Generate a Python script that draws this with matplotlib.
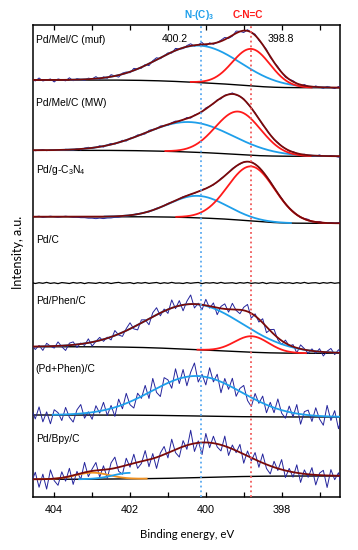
import numpy as np
import matplotlib
matplotlib.use("Agg")
import matplotlib.pyplot as plt

plt.rcParams['font.family'] = ['Liberation Sans', 'DejaVu Sans']
plt.rcParams['mathtext.default'] = 'regular'

# Component peaks: (centre eV, sigma eV, height)
muf_blue = (400.16, 1.07, 37)
muf_red = (398.80, 0.50, 37)
mw_blue = (400.43, 1.15, 30)
mw_red = (399.15, 0.60, 43)
gcn_blue = (400.21, 0.77, 22)
gcn_red = (398.80, 0.62, 54.6)
phen_blue = (400.29, 1.27, 45.5)
phen_red = (398.79, 0.45, 16)
pdphen_blue = (400.24, 1.19, 40)
bpy_main = (400.07, 1.13, 35)
bpy_orange = (403.0, 0.45, 6.5)
bpy_small_blue = (402.0, 0.45, 6)

# background level (high BE side, low BE side) for each stacked spectrum
muf_bg = (417, 409.3)
mw_bg = (346.7, 340.7)
gcn_bg = (280.3, 273.7)
pdc_bg = (214, 214)
phen_bg = (150.3, 143.7)
pdphen_bg = (82, 80)
bpy_bg = (17.7, 21)

# raw spectra, as scatter around the fit (0.1 eV steps, 404.6 -> 396.4 eV)
muf_resid = [1, -1, 2, -1, 0, 1, -2, 1, 0, -1, 2, -1, 1, 0, -1, 1, 0, 2, -1, 1,
             -1, 2, 0, -2, 1, 1, -1, 2, 0, -1, 1, -2, 1, 2, -1, 0, 1, -1, 2, 0,
             -1, 1, 2, -1, 0, 2, -2, 1, -1, 0, 1, 2, -1, -1, 2, 0, -2, 1, 0, 1,
             -1, 0, 1, -1, 0, 1, 0, -1, 0, 1, 0, -1, 1, 0, -1, 1, 0, -1, 1, 0, -1, 1, 0]
mw_resid = [0.5, -0.5, 0, 0.5, -0.5, 0, 0.5, 0, -0.5, 0.5, 0, -0.5, 0.5, -1, 0.5, 1, -0.5, 0, 1, -1,
            0.5, 1, -0.5, 0, 1, -1, 0.5, 0, 1, -0.5, -1, 1, 0.5, -0.5, 1, 0, -1, 0.5, 1, -0.5,
            0, 1, -1, 0.5, 0, -0.5, 1, 0, -0.5, 0.5, -1, 0.5, 0, 1, -0.5, 0, 0.5, -0.5, 0, 0.5,
            0, -0.5, 0.5, 0, -0.5, 0.5, 0, 0, -0.5, 0.5, 0, -0.5, 0.5, 0, 0, -0.5, 1, -0.5, 0, 0.5, 0, -1, 0.5]
gcn_resid = [0.5, 0, 0.5, -0.5, 0, 0.5, 0, -0.5, 0, 0.5, 0, -0.5, -0.5, -1, -1, -1.5, -1.5, -2, -1.5, -2,
             -1.5, -1.5, -1, -1, -0.5, -0.5, 0, 0, 0.5, 0, 0, -0.5, 0, 0.5, 0, 0, 0.5, 0, -0.5, 0,
             0.5, 0, 0, -0.5, 0, 0.5, 0, 0, -0.5, 0, 0.5, 0, 0, 0.5, 0, -0.5, 0, 0, 0.5, 0,
             0, -0.5, 0, 0.5, 0, 0, 0.5, -0.5, 0, 0.5, 0, -0.5, 0.5, 1, -0.5, 0.5, 1, 0, -0.5, 0.5, 0, 0.5, 0]
pdc_resid = [0.5, -0.5, 0.3, -0.3, 0.6, -0.4, 0.2, -0.6, 0.4, 0, -0.5, 0.5, -0.2, 0.4, -0.6, 0.3, 0, -0.4, 0.5, -0.3,
             0.4, -0.5, 0.2, 0.6, -0.3, 0, 0.4, -0.6, 0.3, -0.2, 0.5, -0.4, 0.1, 0.5, -0.5, 0.3, -0.3, 0.6, -0.2, 0,
             -0.5, 0.4, -0.3, 0.2, 0.5, -0.6, 0.3, -0.1, 0.4, -0.4, 0.6, -0.3, 0, 0.3, -0.5, 0.4, -0.2, 0.5, -0.4, 0.2,
             -0.3, 0.5, -0.6, 0.3, 0, -0.4, 0.5, -0.2, 0.3, -0.5, 0.4, -0.3, 0.6, -0.4, 0.1, 0.3, -0.5, 0.4, -0.2, 0.5, -0.3, 0.2, -0.4]
phen_resid = [2, -3, 1, -4, 3, 0, -2, 4, -1, -5, 2, 3, -3, 1, -2, 4, -4, 0, 3, -2,
              1, -3, 5, -1, -4, 2, 6, -2, -5, 3, 1, -6, 4, 7, -3, 2, -4, 8, -2, 5,
              -6, 3, 9, -4, 1, -5, 6, -2, 4, -7, 2, 5, -3, 6, -1, -4, 3, 7, -5, 2,
              -3, 4, -6, 1, 5, -2, -4, 3, -1, 2, -5, 4, 1, -3, 2, -2, 3, -4, 1, 4, -2, 3, 0]
pdphen_resid = [6, -4, 8, -7, 3, -9, 5, 2, -6, 7, -3, -8, 4, 9, -5, 1, -7, 6, -2, 8,
                -6, 3, -9, 7, -4, 10, -3, -8, 5, -2, 9, -6, 12, -4, -10, 7, 3, -7, 11, -5,
                8, -9, 4, 13, -6, 2, -8, 10, -3, 6, -11, 5, -4, 9, -7, 3, 8, -5, -9, 6,
                -2, 7, -8, 4, -5, 10, -3, -7, 6, -4, 9, -10, 3, 5, -6, 8, -3, -9, 11, -4, 6, -12, 2]
bpy_resid = [-3, 7, -8, 5, -10, 9, -2, -7, 6, -4, 8, -9, 3, -6, 10, -5, 2, 8, -7, 4,
             -9, 6, 11, -4, -8, 7, -3, 9, -6, -2, 10, -7, 5, -11, 3, 8, -5, 12, -3, -9,
             6, -4, 14, -8, 2, -12, 9, -5, 7, -3, -6, 10, -8, 4, -2, 8, -9, 5, -3, 7,
             -6, 9, -4, -8, 6, -2, 10, -7, 3, -5, 8, -9, 4, -3, 7, -10, 2, 5, -12, 6, -4, 3, -14]

labels = ["Pd/Mel/C (muf)", "Pd/Mel/C (MW)", "Pd/g-C$_3$N$_4$", "Pd/C",
          "Pd/Phen/C", "(Pd+Phen)/C", "Pd/Bpy/C"]
label_y = [457, 394, 327, 257, 196, 128, 58]

line_n = 400.12
line_cnc = 398.8

BLUE = '#1e9fea'
RED = '#ff1a1a'
ENV = '#7a0a0a'
RAW = '#24249c'

E = np.linspace(404.6, 396.4, 600)
E_raw = np.linspace(404.6, 396.4, 83)


def gauss(x, p):
    c, s, h = p
    return h * np.exp(-(x - c) ** 2 / (2 * s ** 2))


def shirley(x, total, bg):
    left, right = bg
    if total.sum() == 0:
        return np.full_like(x, left, dtype=float)
    a = np.cumsum(total[::-1])[::-1]
    return right + (left - right) * a / a[0]


def comp_line(base, p, col, nsig=3.2):
    # draw a component only where it rises above the background
    m = np.abs(E - p[0]) <= nsig * p[1]
    ax.plot(E[m], base[m] + gauss(E[m], p), color=col, lw=1.3, zorder=4)


fig = plt.figure(figsize=(3.58, 5.5), dpi=100)
ax = fig.add_axes([33 / 358, 1 - 497 / 550, 307 / 358, 472 / 550])


def spectrum(comps, bg, resid, comp_colors, show_env=True):
    tot = sum(gauss(E, p) for p in comps)
    tot_r = sum(gauss(E_raw, p) for p in comps)
    base = shirley(E, tot, bg)
    base_r = shirley(E_raw, tot_r, bg)
    raw = base_r + tot_r + np.array(resid)
    ax.plot(E_raw, raw, color=RAW, lw=0.7, zorder=3)
    ax.plot(E, base, color='black', lw=1.0, zorder=2)
    for p, col in zip(comps, comp_colors):
        comp_line(base, p, col)
    if show_env:
        ax.plot(E, base + tot, color=ENV, lw=1.3, zorder=5)
    return base


spectrum([muf_blue, muf_red], muf_bg, muf_resid, [BLUE, RED])
spectrum([mw_blue, mw_red], mw_bg, mw_resid, [BLUE, RED])
spectrum([gcn_blue, gcn_red], gcn_bg, gcn_resid, [BLUE, RED])
ax.plot(E_raw, np.full(len(E_raw), pdc_bg[0]) + np.array(pdc_resid), color='black', lw=0.9)
spectrum([phen_blue, phen_red], phen_bg, phen_resid, [BLUE, RED])
spectrum([pdphen_blue], pdphen_bg, pdphen_resid, [BLUE], show_env=False)

# Pd/Bpy/C: main peak shown only by the envelope, small side peaks at high BE
b_tot = gauss(E, bpy_main) + gauss(E, bpy_orange) + gauss(E, bpy_small_blue)
b_tot_r = gauss(E_raw, bpy_main) + gauss(E_raw, bpy_orange) + gauss(E_raw, bpy_small_blue)
b_base = shirley(E, b_tot, bpy_bg)
b_base_r = shirley(E_raw, b_tot_r, bpy_bg)
ax.plot(E_raw, b_base_r + b_tot_r + np.array(bpy_resid), color=RAW, lw=0.7, zorder=3)
ax.plot(E, b_base, color='black', lw=1.0, zorder=2)
comp_line(b_base, bpy_orange, '#f0901e')
m = (E >= bpy_small_blue[0]) & (E <= bpy_small_blue[0] + 3 * bpy_small_blue[1])
ax.plot(E[m], b_base[m] + gauss(E[m], bpy_small_blue), color=BLUE, lw=1.3, zorder=4)
ax.plot(E, b_base + b_tot, color=ENV, lw=1.3, zorder=5)

# reference positions
ax.axvline(line_n, color='#5aaaf0', ls=':', lw=1.3, zorder=6)
ax.axvline(line_cnc, color='#f05a5a', ls=':', lw=1.3, zorder=6)

for lab, y in zip(labels, label_y):
    ax.text(404.49, y, lab, fontsize=7.4, va='center', ha='left', zorder=7)
ax.text(400.81, 458, "400.2", fontsize=7.6, va='center', ha='center')
ax.text(398.01, 458, "398.8", fontsize=7.6, va='center', ha='center')
ax.text(line_n + 0.05, 482, "N-(C)$_3$", color=BLUE, fontsize=7.2, fontweight='bold',
        ha='center', va='center', clip_on=False)
ax.text(398.9, 482, "C-N=C", color=RED, fontsize=7.2, fontweight='bold',
        ha='center', va='center', clip_on=False)

ax.set_xlim(404.56, 396.46)
ax.set_ylim(0, 472)
ax.set_yticks([])
ax.set_xticks([404, 402, 400, 398])
ax.set_xticks([403, 401, 399, 397], minor=True)
ax.tick_params(axis='x', which='both', direction='in', top=True, length=3.5, width=0.9,
               labelsize=7.8, pad=6)
for s in ax.spines.values():
    s.set_linewidth(1.1)

fig.text(187 / 358, 1 - 535 / 550, "Binding energy, eV", fontsize=8.2,
         family=['Lato', 'DejaVu Sans'], ha='center', va='center')
fig.text(18 / 358, 1 - 252 / 550, "Intensity, a.u.", fontsize=9, rotation=90,
         family=['Lato', 'DejaVu Sans'], ha='center', va='center')

fig.savefig("out.png", dpi=100)
